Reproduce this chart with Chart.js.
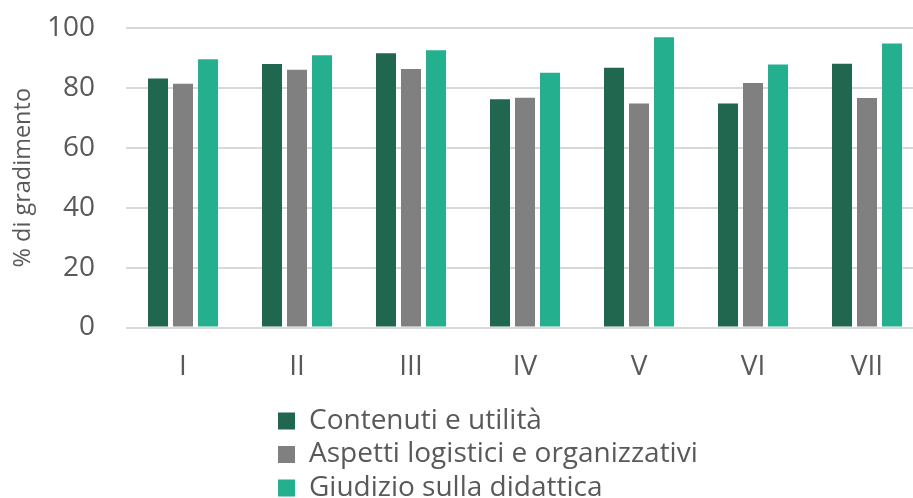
<!DOCTYPE html>
<html>
<head>
<meta charset="utf-8">
<script src="https://cdn.jsdelivr.net/npm/chart.js@4/dist/chart.umd.min.js"></script>
<style>
  html, body { margin: 0; padding: 0; background: #ffffff; overflow: hidden; }
  #wrap { width: 925px; height: 512px; }
</style>
</head>
<body>
<div id="wrap"><canvas id="c" width="925" height="512"></canvas></div>
<script>
const categories = ['I', 'II', 'III', 'IV', 'V', 'VI', 'VII'];
const contenuti = [83.1, 88.0, 91.6, 76.2, 86.7, 74.8, 88.1];
const aspetti = [81.4, 86.1, 86.3, 76.7, 74.8, 81.6, 76.6];
const giudizio = [89.6, 90.9, 92.6, 85.1, 96.9, 87.8, 94.8];
const seriesNames = ['Contenuti e utilità', 'Aspetti logistici e organizzativi', 'Giudizio sulla didattica'];
const yTitle = '% di gradimento';

const FONT = '"Open Sans", sans-serif';
const TEXT = '#595959';
const LEGEND_PAD = 5.5;
const LEGEND_LEFT = 278 - LEGEND_PAD;
const LEGEND_WIDTH = 500;

const stackedLegend = {
  id: 'stackedLegend',
  beforeLayout(chart) {
    const lg = chart.legend;
    if (lg && !lg._stackPatched) {
      const fit = lg.fit;
      lg.fit = function () {
        const mw = this.maxWidth;
        this.maxWidth = LEGEND_WIDTH;
        fit.call(this);
        this.maxWidth = mw;
      };
      lg._stackPatched = true;
    }
  },
  afterLayout(chart) {
    const lg = chart.legend;
    if (lg) {
      lg.left = LEGEND_LEFT;
      lg.right = LEGEND_LEFT + LEGEND_WIDTH;
    }
  }
};

new Chart(document.getElementById('c'), {
  type: 'bar',
  data: {
    labels: categories,
    datasets: [
      { label: seriesNames[0], data: contenuti, backgroundColor: '#21664F' },
      { label: seriesNames[1], data: aspetti, backgroundColor: '#808080' },
      { label: seriesNames[2], data: giudizio, backgroundColor: '#24B08E' }
    ]
  },
  options: {
    responsive: false,
    animation: false,
    categoryPercentage: 0.658,
    barPercentage: 0.8,
    layout: { padding: { top: 28, right: 1, left: 0, bottom: 0 } },
    scales: {
      x: {
        grid: { display: false, drawTicks: false },
        border: { display: false },
        ticks: { color: TEXT, font: { family: FONT, size: 28 }, padding: 23 },
        afterFit(s) { s.height = 74; }
      },
      y: {
        min: 0, max: 100,
        grid: { color: '#D9D9D9', lineWidth: 2, drawTicks: true, tickLength: 31, tickColor: 'rgba(0,0,0,0)' },
        border: { display: false },
        ticks: { stepSize: 20, color: TEXT, font: { family: FONT, size: 28 }, padding: 0 },
        title: { display: true, text: yTitle, color: TEXT, font: { family: FONT, size: 23.5 }, padding: { top: 9, bottom: 0 } },
        afterFit(s) { s.width = 126; }
      }
    },
    plugins: {
      legend: {
        position: 'bottom',
        align: 'start',
        labels: {
          color: TEXT,
          font: { family: FONT, size: 28 },
          boxWidth: 17,
          boxHeight: 17,
          padding: LEGEND_PAD
        }
      },
      tooltip: { enabled: false }
    }
  },
  plugins: [stackedLegend]
});
</script>
</body>
</html>
